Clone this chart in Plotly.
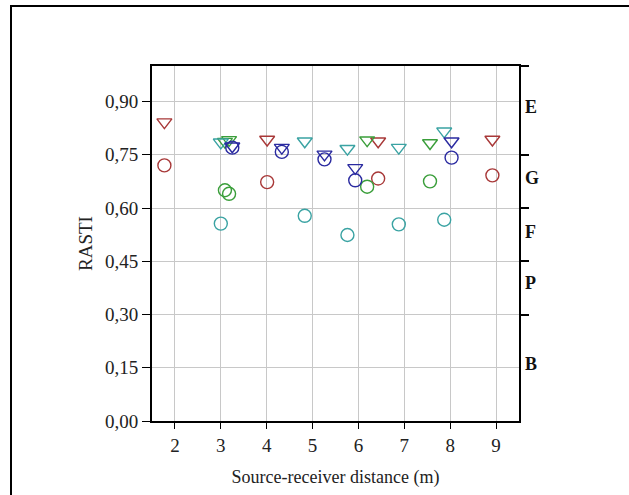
import plotly.graph_objects as go

# Data (x = source-receiver distance, y = RASTI)
red_x = [1.77, 4.01, 6.43, 8.92]
red_tri = [0.842, 0.793, 0.788, 0.793]
red_circ = [0.720, 0.673, 0.683, 0.692]

green_x = [3.09, 3.18, 6.19, 7.56]
green_tri = [0.787, 0.792, 0.791, 0.783]
green_circ = [0.650, 0.640, 0.660, 0.675]

teal_x = [3.00, 4.83, 5.76, 6.88, 7.87]
teal_tri = [0.785, 0.788, 0.767, 0.770, 0.816]
teal_circ = [0.556, 0.578, 0.524, 0.554, 0.567]

blue_x = [3.25, 4.33, 5.26, 5.93, 8.03]
blue_tri = [0.774, 0.770, 0.751, 0.713, 0.788]
blue_circ = [0.770, 0.758, 0.737, 0.678, 0.742]

x_ticks = [2, 3, 4, 5, 6, 7, 8, 9]
y_ticks = [0.0, 0.15, 0.30, 0.45, 0.60, 0.75, 0.90]
class_bounds = [0.30, 0.45, 0.60, 0.75, 1.0]
class_labels = ["E", "G", "F", "P", "B"]
class_pos = [0.885, 0.685, 0.531, 0.39, 0.16]

series = [
    ("#a83838", red_x, red_tri, red_circ),
    ("#3a9e3a", green_x, green_tri, green_circ),
    ("#3aa3a3", teal_x, teal_tri, teal_circ),
    ("#2a2aa0", blue_x, blue_tri, blue_circ),
]

fig = go.Figure()
for color, xs, tri, circ in series:
    fig.add_trace(go.Scatter(x=xs, y=circ, mode="markers", showlegend=False,
                             marker=dict(symbol="circle-open", size=13,
                                         line=dict(color=color, width=1.4), color=color)))
    fig.add_trace(go.Scatter(x=xs, y=tri, mode="markers", showlegend=False,
                             marker=dict(symbol="triangle-down-open", size=13,
                                         line=dict(color=color, width=1.4), color=color)))

# dummy trace for right axis
fig.add_trace(go.Scatter(x=[None], y=[None], yaxis="y2", showlegend=False))

serif = "Liberation Serif, Times New Roman, serif"
font = dict(family=serif, size=15, color="#111")
tickfont = dict(family=serif, size=19, color="#222")

fig.update_layout(
    width=629, height=495,
    margin=dict(l=152, r=110, t=66, b=74),
    paper_bgcolor="white", plot_bgcolor="white",
    separators=", ",
    font=font,
    xaxis=dict(range=[1.5, 9.5], tickvals=x_ticks, ticks="outside", ticklen=6,
               tickcolor="black", showline=True, linecolor="black", linewidth=2,
               mirror=True, showgrid=True, gridcolor="#c8c8c8", gridwidth=1,
               zeroline=False, title=dict(text="Source-receiver distance (m)", standoff=16,
                                          font=dict(family=serif, size=18, color="#222")),
               tickfont=tickfont),
    yaxis=dict(range=[0, 1.0], tickvals=y_ticks, tickformat=".2f", ticks="outside",
               ticklen=8, tickcolor="black", showline=True, linecolor="black",
               linewidth=2, mirror=True, showgrid=True, gridcolor="#c8c8c8",
               gridwidth=1, zeroline=False,
               title=dict(text="RASTI", standoff=7,
                          font=dict(family=serif, size=19, color="#222")),
               tickfont=tickfont),
    yaxis2=dict(range=[0, 1.0], overlaying="y", side="right", tickvals=class_bounds,
                ticks="outside", ticklen=9, tickwidth=2, tickcolor="black",
                showticklabels=False, showgrid=False, zeroline=False, showline=False),
)

for lab, pos in zip(class_labels, class_pos):
    fig.add_annotation(x=1.0, xref="paper", xshift=4, xanchor="left", y=pos, yref="y",
                       text="<b>" + lab + "</b>", showarrow=False,
                       font=dict(family=serif, size=18, color="#111"))

# outer frame (top and left edges visible)
fig.add_shape(type="rect", xref="paper", yref="paper",
              x0=(11 - 152) / 367, x1=(640 - 152) / 367,
              y0=(421 - 500) / 355, y1=(421 - 6) / 355,
              line=dict(color="black", width=2), fillcolor="rgba(0,0,0,0)", layer="below")

fig.write_html("out.html", config={"displayModeBar": False},
               post_script="document.body.style.margin='0';document.body.style.overflow='hidden';")
